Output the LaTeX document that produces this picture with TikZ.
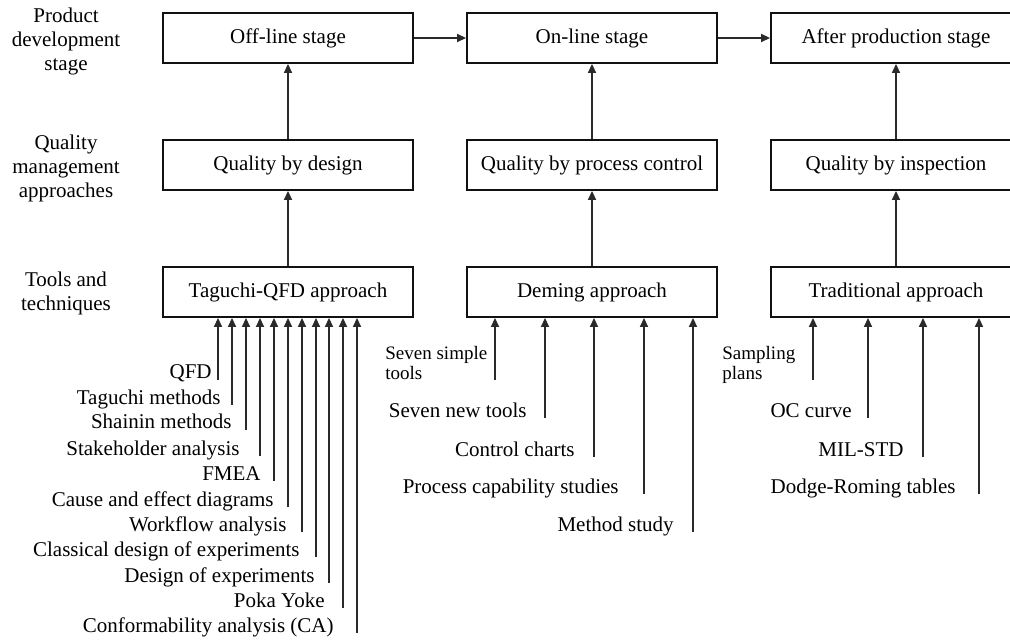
\documentclass[tikz,border=0pt]{standalone}
\usepackage{fontspec}
\setmainfont{Liberation Serif}
\usepackage{tikz}
\usetikzlibrary{arrows.meta,positioning}
\definecolor{Ink}{HTML}{111111}
\definecolor{Wire}{HTML}{2A2A2A}
\tikzset{
  box/.style={draw=Ink,fill=white,line width=1pt,minimum width=125pt,minimum height=25pt,align=center,inner sep=0pt,font=\fontsize{10.5}{12}\selectfont},
  side/.style={align=center,inner sep=0pt,font=\fontsize{10.5}{12}\selectfont},
  tool/.style={inner sep=0pt,font=\fontsize{10.5}{12}\selectfont},
  note/.style={align=left,inner sep=0pt,font=\fontsize{9.5}{10.2}\selectfont},
  flow/.style={-{Triangle[length=4.4pt,width=4pt]},draw=Wire,line width=.6pt}
}

\begin{document}
\begin{tikzpicture}[x=.5pt,y=-.5pt]
  \useasboundingbox (0,0) rectangle (1010,640);
  \node[box] (off) at (288,38) {Off-line stage};
  \node[box,right=26pt of off] (on) {On-line stage};
  \node[box,right=26pt of on] (after) {After production stage};
  \node[box,below=37.5pt of off] (qd) {Quality by design};
  \node[box,below=37.5pt of on] (qp) {Quality by process control};
  \node[box,below=37.5pt of after] (qi) {Quality by inspection};
  \node[box,below=37.5pt of qd] (tq) {Taguchi-QFD approach};
  \node[box,below=37.5pt of qp] (dm) {Deming approach};
  \node[box,below=37.5pt of qi] (tr) {Traditional approach};
  \node[side] (s1) at (66,41) {Product\\development\\stage};
  \node[side] (s2) at (66,168) {Quality\\management\\approaches};
  \node[side] (s3) at (66,293) {Tools and\\techniques};
  \draw[flow] (off) -- (on);
  \draw[flow] (on) -- (after);
  \draw[flow] (qd) -- (off);
  \draw[flow] (qp) -- (on);
  \draw[flow] (qi) -- (after);
  \draw[flow] (tq) -- (qd);
  \draw[flow] (dm) -- (qp);
  \draw[flow] (tr) -- (qi);
  \foreach \px/\py/\lx/\txt [count=\i] in {
    218/380/212/QFD,
    232/405/221/Taguchi methods,
    246/430/232/Shainin methods,
    260/456/240/Stakeholder analysis,
    274/481/261/FMEA,
    288/507/274/Cause and effect diagrams,
    302/532/287/Workflow analysis,
    316/557/300/Classical design of experiments,
    329/583/315/Design of experiments,
    343/608/325/Poka Yoke,
    357/633/334/Conformability analysis (CA)}
  {
    \coordinate (qt\i) at (\px,\py);
    \node[tool,anchor=base east] (ql\i) at (\lx,\py-1) {\txt};
    \draw[flow] (qt\i) -- (qt\i |- tq.south);
  }
  \coordinate (dt0) at (495,380);
  \node[note,anchor=north west] (dl0) at (385,346) {Seven simple\\tools};
  \draw[flow] (dt0) -- (dt0 |- dm.south);
  \foreach \px/\py/\lx/\txt [count=\i] in {
    545/418/527/Seven new tools,
    594/457/575/Control charts,
    644/494/619/Process capability studies,
    693/532/674/Method study}
  {
    \coordinate (dt\i) at (\px,\py);
    \node[tool,anchor=base east] (dl\i) at (\lx,\py-1) {\txt};
    \draw[flow] (dt\i) -- (dt\i |- dm.south);
  }
  \coordinate (rt0) at (813,380);
  \node[note,anchor=north west] (rl0) at (722,346) {Sampling\\plans};
  \draw[flow] (rt0) -- (rt0 |- tr.south);
  \foreach \px/\py/\lx/\txt [count=\i] in {
    868/418/852/OC curve,
    923/457/904/MIL-STD,
    979/494/956/Dodge-Roming tables}
  {
    \coordinate (rt\i) at (\px,\py);
    \node[tool,anchor=base east] (rl\i) at (\lx,\py-1) {\txt};
    \draw[flow] (rt\i) -- (rt\i |- tr.south);
  }
\end{tikzpicture}
\end{document}
